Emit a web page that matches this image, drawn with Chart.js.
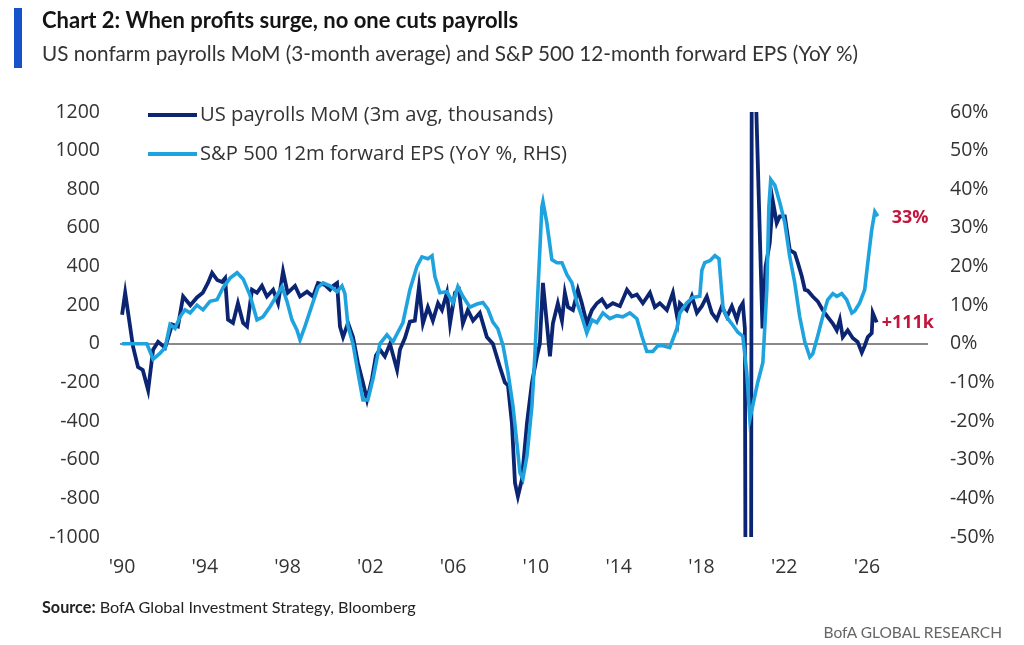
<!DOCTYPE html>
<html>
<head>
<meta charset="utf-8">
<script src="https://cdn.jsdelivr.net/npm/chart.js@4.4.1/dist/chart.umd.min.js"></script>
<style>
  body { margin: 0; background: #fff; width: 1024px; height: 645px; overflow: hidden; position: relative; font-family: "Open Sans", sans-serif; }
  #bar { position: absolute; left: 14px; top: 8px; width: 8px; height: 60px; background: #1652c8; }
  #title { position: absolute; left: 42px; top: 9px; font: bold 22px/22px Lato, sans-serif; color: #141414; white-space: nowrap; }
  #subtitle { position: absolute; left: 42px; top: 42px; font: 20.7px/22px Lato, sans-serif; color: #333; white-space: nowrap; }
  .leg { position: absolute; left: 148px; height: 24px; font: 20.2px/24px "Open Sans", sans-serif; color: #333; white-space: nowrap; }
  .leg span { display: inline-block; width: 49px; height: 4px; vertical-align: middle; margin-right: 3px; position: relative; top: -1px; }
  #source { position: absolute; left: 42px; top: 597px; font: 16.2px/19px Lato, sans-serif; color: #222; white-space: nowrap; }
  #footer { position: absolute; right: 22px; top: 623px; font: 15.5px/18px Lato, sans-serif; color: #666; white-space: nowrap; }
  #wrap { position: absolute; left: 0; top: 0; width: 1024px; height: 645px; }
</style>
</head>
<body>
<div id="wrap"><canvas id="chart1"></canvas></div>
<div id="bar"></div>
<div id="title">Chart 2: When profits surge, no one cuts payrolls</div>
<div id="subtitle">US nonfarm payrolls MoM (3-month average) and S&amp;P 500 12-month forward EPS (YoY %)</div>
<div class="leg" id="leg1" style="top:101px"><span style="background:#0c2572"></span>US payrolls MoM (3m avg, thousands)</div>
<div class="leg" id="leg2" style="top:140px"><span style="background:#1fa3df"></span>S&amp;P 500 12m forward EPS (YoY %, RHS)</div>
<div id="source"><b>Source:</b> BofA Global Investment Strategy, Bloomberg</div>
<div id="footer">BofA GLOBAL RESEARCH</div>
<script>
// x ticks every 4 years
let tickYears = [1990, 1994, 1998, 2002, 2006, 2010, 2014, 2018, 2022, 2026]

// US payrolls MoM, 3m avg, thousands (left axis)
let payrollYears = [1990.0,1990.15,1990.53,1990.77,1991.0,1991.26,1991.5,1991.74,1992.08,1992.42,1992.7,1992.95,1993.3,1993.62,1993.9,
  1994.15,1994.35,1994.6,1994.83,1994.98,1995.12,1995.36,1995.6,1995.85,1996.04,1996.28,1996.52,1996.76,1997.0,1997.3,1997.54,1997.78,
  1998.0,1998.36,1998.6,1998.94,1999.23,1999.47,1999.8,2000.05,2000.2,2000.39,2000.53,2000.68,2000.92,2001.16,2001.4,2001.64,2001.84,
  2002.08,2002.27,2002.46,2002.7,2002.95,2003.29,2003.43,2003.67,2003.91,2004.15,2004.35,2004.54,2004.78,2005.02,2005.27,2005.46,2005.7,
  2005.85,2006.09,2006.28,2006.47,2006.71,2006.96,2007.29,2007.63,2007.92,2008.26,2008.5,2008.65,2008.84,2008.99,2009.13,2009.32,2009.57,
  2009.81,2010.05,2010.19,2010.34,2010.53,2010.68,2010.82,2011.06,2011.26,2011.4,2011.55,2011.79,2012.03,2012.22,2012.46,2012.71,2012.95,
  2013.19,2013.43,2013.72,2014.06,2014.4,2014.64,2014.88,2015.17,2015.51,2015.75,2015.99,2016.33,2016.62,2016.86,2016.96,2017.29,2017.54,
  2017.78,2018.02,2018.26,2018.5,2018.74,2018.99,2019.23,2019.47,2019.71,2019.86,2020.0,2020.1,2020.17,2020.38,2020.45,2020.55,2020.95,
  2021.1,2021.3,2021.45,2021.64,2021.79,2022.03,2022.27,2022.51,2022.66,2022.85,2023.0,2023.14,2023.38,2023.62,2023.86,2024.1,
  2024.35,2024.54,2024.69,2024.83,2025.07,2025.31,2025.55,2025.75,2025.89,2026.04,2026.23,2026.28,2026.47]
let payrollValues = [150,265,-15,-120,-135,-240,-30,10,-20,100,90,245,200,240,264,
  315,367,330,320,340,125,108,210,108,90,280,264,300,245,280,210,375,
  264,300,245,270,245,315,305,280,300,315,90,35,108,35,-100,-200,-290,
  -180,-60,-30,-65,0,-135,-30,30,115,120,295,105,190,120,210,175,264,
  105,264,280,105,175,120,160,35,0,-120,-200,-215,-410,-720,-790,-705,-410,
  -200,-65,0,315,105,-65,105,210,120,264,190,175,280,210,105,175,210,
  230,190,210,195,280,245,255,210,264,190,210,175,264,120,210,175,245,
  160,195,245,160,125,195,140,195,125,185,210,80,-3000,-3000,3000,1600,80,
  400,520,740,625,660,660,485,470,420,350,280,275,245,220,175,140,
  105,70,125,35,70,30,10,-45,-10,35,55,160,111]

// S&P 500 12m forward EPS, YoY % (right axis)
let epsYears = [1990.0,1991.2,1991.5,1991.84,1992.08,1992.32,1992.56,1992.8,1993.04,1993.29,1993.62,1993.91,1994.25,1994.59,1994.88,
  1995.22,1995.56,1995.85,1996.18,1996.52,1996.81,1997.15,1997.49,1997.73,1997.97,1998.21,1998.45,1998.6,1998.84,1999.18,1999.47,1999.71,
  2000.05,2000.39,2000.63,2000.77,2000.92,2001.16,2001.4,2001.64,2001.88,2002.13,2002.46,2002.8,2003.09,2003.33,2003.57,2003.91,2004.25,
  2004.49,2004.78,2004.98,2005.12,2005.36,2005.7,2005.99,2006.23,2006.47,2006.81,2007.15,2007.44,2007.68,2007.92,2008.16,2008.41,2008.65,
  2008.89,2009.08,2009.23,2009.37,2009.57,2009.81,2009.95,2010.1,2010.29,2010.34,2010.53,2010.77,2011.01,2011.26,2011.5,2011.74,2011.98,
  2012.22,2012.46,2012.71,2012.95,2013.24,2013.57,2013.91,2014.2,2014.54,2014.88,2015.12,2015.36,2015.65,2015.89,2016.14,2016.47,2016.81,
  2016.96,2017.29,2017.58,2017.92,2018.02,2018.16,2018.41,2018.65,2018.85,2018.97,2019.05,2019.28,2019.52,2019.76,2020.0,2020.19,2020.34,
  2020.48,2020.72,2020.97,2021.16,2021.26,2021.35,2021.55,2021.79,2022.03,2022.27,2022.51,2022.75,2023.0,2023.24,2023.38,2023.62,2023.86,
  2024.1,2024.35,2024.54,2024.78,2025.02,2025.27,2025.41,2025.65,2025.89,2026.04,2026.23,2026.38,2026.52]
let epsValues = [0,0,-4,-2.4,-1,5,4,7,8.8,8,10,8.8,11,11.4,14.5,
  17,18.4,16.8,12.6,6.2,7,9.6,12.6,14.8,11,6.2,3.6,1,4.5,10,14.6,15.8,
  15,13.5,15,13,4.5,0,-7.5,-14.5,-14.5,-9,0,2.3,0.5,3,5.4,14,20,
  22.5,22,22.8,17.4,13.2,13.5,10.6,14.8,12.3,9.5,10.3,10.7,9,5.6,3.9,-0.4,-7.4,
  -16,-25.6,-33.4,-35,-29,-16,-3,14,35.5,36.8,31.3,21.8,21,21,17.9,15.8,10.7,
  7,2.8,6.2,5.5,8,6.5,7.3,7,8,6.5,2,-2,-2,-0.5,-0.5,-1,3.9,
  8,10.6,12,12.3,19,21,21.5,22.8,22,14,9,6.5,4.8,3,2,-7.4,-19.5,
  -16,-10,-4.8,14,35.5,42.5,41,36.5,31.3,22.5,15.8,7,0.4,-3.4,-2.6,2,7,
  11.4,13,12.3,13,11.4,8,8.5,10.6,14,21,29.5,34.2,33]

// labels at the end of each line
let endLabels = ['+111k', '33%']

let payrollPoints = payrollYears.map((x, i) => ({ x: x, y: payrollValues[i] }))
let epsPoints = epsYears.map((x, i) => ({ x: x, y: epsValues[i] }))

const endLabelPlugin = {
  id: 'endLabels',
  afterDatasetsDraw(chart) {
    const ctx = chart.ctx
    ctx.save()
    ctx.font = 'bold 18px "Open Sans", sans-serif'
    ctx.fillStyle = '#c2163d'
    ctx.textBaseline = 'middle'
    let offsets = [5, 14]
    let dy = [0, 2]
    for (let i = 0; i < 2; i++) {
      let meta = chart.getDatasetMeta(i)
      let last = meta.data[meta.data.length - 1]
      ctx.fillText(endLabels[i], last.x + offsets[i], last.y + dy[i])
    }
    ctx.restore()
  }
}

const tickFont = { family: '"Open Sans", sans-serif', size: 19.5 }

const config = {
  type: 'line',
  data: {
    datasets: [
      {
        label: 'US payrolls MoM (3m avg, thousands)',
        data: payrollPoints,
        yAxisID: 'y',
        borderColor: '#0c2572',
        borderWidth: 3.8,
        pointRadius: 0,
        tension: 0,
        order: 2
      },
      {
        label: 'S&P 500 12m forward EPS (YoY %, RHS)',
        data: epsPoints,
        yAxisID: 'y1',
        borderColor: '#1fa3df',
        borderWidth: 3.6,
        pointRadius: 0,
        tension: 0,
        order: 1
      }
    ]
  },
  options: {
    responsive: true,
    maintainAspectRatio: false,
    animation: false,
    devicePixelRatio: 1,
    layout: { padding: { top: 112, bottom: 63, left: 0, right: 0 } },
    plugins: { legend: { display: false }, tooltip: { enabled: false } },
    scales: {
      x: {
        type: 'linear',
        min: 1989.9,
        max: 2028.95,
        grid: { display: false, drawTicks: false },
        border: { display: false },
        afterBuildTicks: (scale) => { scale.ticks = tickYears.map(v => ({ value: v })) },
        afterFit: (scale) => { scale.height = 45 },
        ticks: {
          padding: 19,
          color: '#333',
          font: tickFont,
          callback: (v) => "'" + String(v).slice(2)
        }
      },
      y: {
        position: 'left',
        min: -1000,
        max: 1200,
        afterFit: (scale) => { scale.width = 120 },
        grid: {
          drawTicks: false,
          lineWidth: 2,
          color: (c) => (c.tick && c.tick.value === 0) ? '#8a8a8a' : 'rgba(0,0,0,0)'
        },
        border: { display: false },
        ticks: { stepSize: 200, padding: 20, color: '#333', font: tickFont, callback: (v) => String(v) }
      },
      y1: {
        position: 'right',
        min: -50,
        max: 60,
        afterFit: (scale) => { scale.width = 96 },
        grid: { display: false, drawTicks: false },
        border: { display: false },
        ticks: { stepSize: 10, padding: 22, color: '#333', font: tickFont, callback: (v) => v + '%' }
      }
    }
  },
  plugins: [endLabelPlugin]
}

const myChart = new Chart(document.getElementById('chart1'), config)
</script>
</body>
</html>
